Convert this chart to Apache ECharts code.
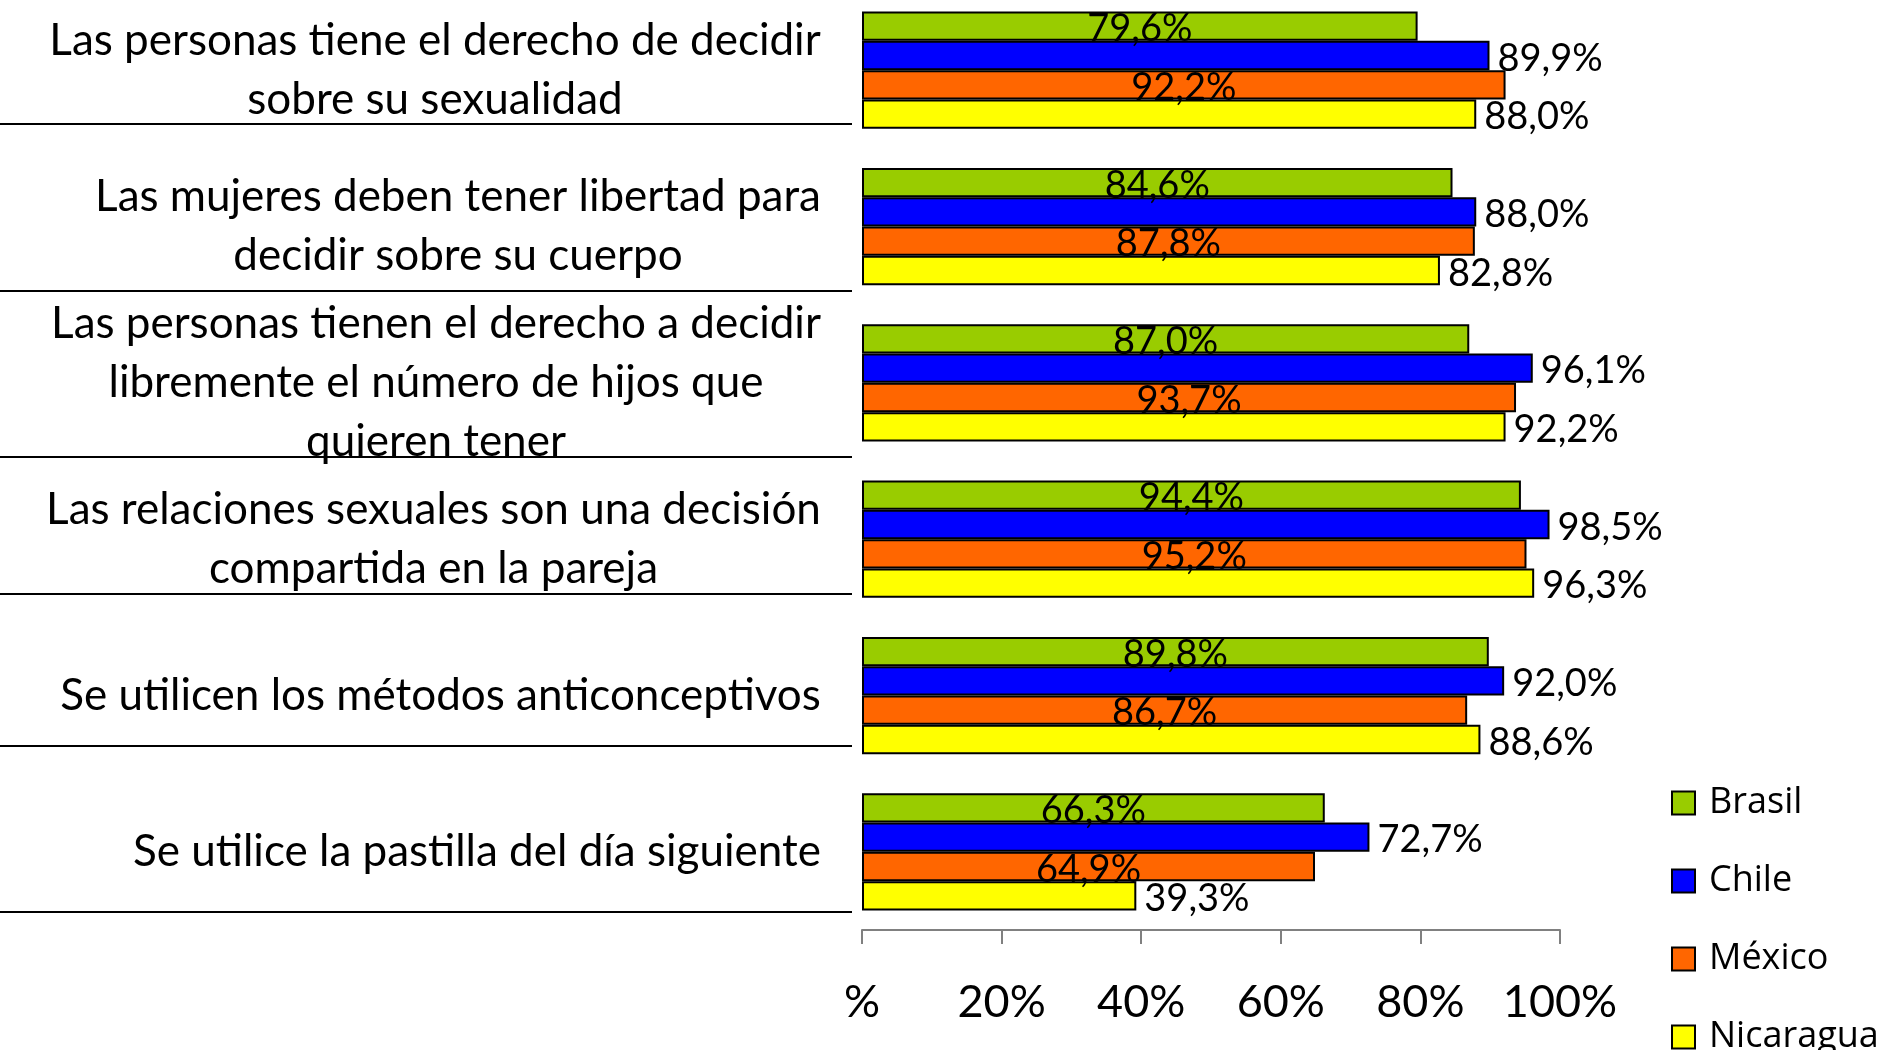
<!DOCTYPE html>
<html>
<head>
<meta charset="utf-8">
<script src="https://cdn.jsdelivr.net/npm/echarts@6/dist/echarts.min.js"></script>
<style>
  html, body { margin: 0; padding: 0; background: #fff; }
  #chart { width: 1886px; height: 1050px; }
</style>
</head>
<body>
<div id="chart"></div>
<script>
const categories = [
  'Las personas tiene el derecho de decidir\nsobre su sexualidad',
  'Las mujeres deben tener libertad para\ndecidir sobre su cuerpo',
  'Las personas tienen el derecho a decidir\nlibremente el número de hijos que\nquieren tener',
  'Las relaciones sexuales son una decisión\ncompartida en la pareja',
  'Se utilicen los métodos anticonceptivos',
  'Se utilice la pastilla del día siguiente'
];
const countries = ['Brasil', 'Chile', 'México', 'Nicaragua'];
const brasil    = [79.6, 84.6, 87.0, 94.4, 89.8, 66.3];
const chile     = [89.9, 88.0, 96.1, 98.5, 92.0, 72.7];
const mexico    = [92.2, 87.8, 93.7, 95.2, 86.7, 64.9];
const nicaragua = [88.0, 82.8, 92.2, 96.3, 88.6, 39.3];
const xTicks = [0, 20, 40, 60, 80, 100];

const colors = ['#99cc00', '#0000ff', '#ff6600', '#ffff00'];
const seriesData = [brasil, chile, mexico, nicaragua];
const labelPos = ['inside', 'right', 'inside', 'right'];

// separator lines under each category text box (decoration)
const sepY = [124, 291, 457, 594, 746, 912];

const FONT = 'Lato';
const catFont = 44;

// measure widest line so each block is centered, then right-aligned
const ctx = document.createElement('canvas').getContext('2d');
ctx.font = catFont + 'px ' + FONT;
const rich = {};
categories.forEach((c, i) => {
  let w = 0;
  c.split('\n').forEach(l => { w = Math.max(w, ctx.measureText(l).width); });
  rich['c' + i] = {
    width: Math.ceil(w) + 2, align: 'center',
    fontSize: catFont, lineHeight: 59, fontFamily: FONT, color: '#000'
  };
});

const fmt = v => v.toFixed(1).replace('.', ',') + '%';

let chart = echarts.init(document.getElementById('chart'), null, { renderer: 'canvas' });

chart.setOption({
  animation: false,
  backgroundColor: '#fff',
  grid: { left: 862, width: 698, top: -8, bottom: 120, containLabel: false, outerBoundsMode: 'none' },
  legend: {
    orient: 'vertical',
    left: 1666,
    top: 778,
    height: 400,
    icon: 'rect',
    itemWidth: 23,
    itemHeight: 23,
    itemGap: 38,
    itemStyle: { borderColor: '#000', borderWidth: 2 },
    textStyle: { fontFamily: 'Open Sans', fontSize: 36, color: '#000', lineHeight: 40, padding: [0, 0, 0, 9] },
    data: countries
  },
  xAxis: {
    type: 'value',
    min: xTicks[0],
    max: xTicks[xTicks.length - 1],
    interval: 20,
    axisLine: { show: true, lineStyle: { color: '#808080', width: 2 } },
    axisTick: { show: true, length: 14, lineStyle: { color: '#808080', width: 2 } },
    splitLine: { show: false },
    axisLabel: {
      margin: 50,
      fontFamily: FONT,
      fontSize: 45,
      color: '#000',
      formatter: v => (v === 0 ? '%' : v + '%')
    }
  },
  yAxis: {
    type: 'category',
    inverse: true,
    data: categories,
    axisLine: { show: false },
    axisTick: { show: false },
    axisLabel: {
      margin: 40,
      rich: rich,
      formatter: (value, idx) => value.split('\n').map(l => '{c' + idx + '|' + l + '}').join('\n')
    }
  },
  series: countries.map((name, i) => ({
    name: name,
    type: 'bar',
    data: seriesData[i],
    barGap: '0%',
    barCategoryGap: '25%',
    itemStyle: { color: colors[i], borderColor: '#000', borderWidth: 2 },
    label: {
      show: true,
      position: labelPos[i],
      distance: 8,
      offset: [0, 3],
      fontFamily: FONT,
      fontSize: 38,
      color: '#000',
      formatter: p => fmt(p.value)
    },
    z: 2
  })),
  graphic: sepY.map(y => ({
    type: 'line',
    shape: { x1: 0, y1: y, x2: 852, y2: y },
    style: { stroke: '#000', lineWidth: 2 },
    z: 10
  }))
});
</script>
</body>
</html>
